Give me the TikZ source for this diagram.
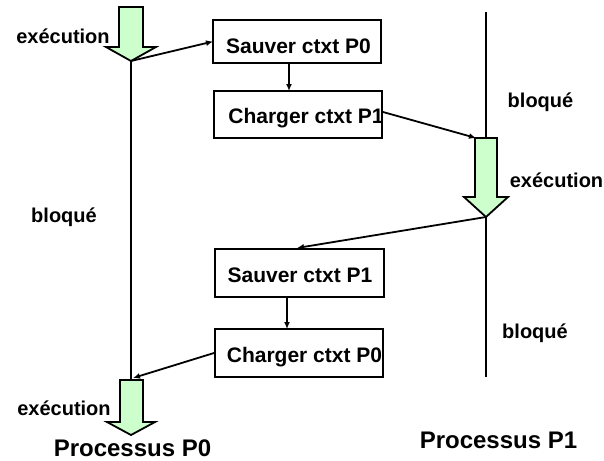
\documentclass[tikz,border=0pt]{standalone}
\usepackage{fontspec}
\setmainfont{Liberation Sans}
\usetikzlibrary{arrows.meta}
\definecolor{runfill}{HTML}{CCFFCC}
\begin{document}
\begin{tikzpicture}[x=1pt,y=-1pt,
  every node/.style={inner sep=0pt,outer sep=0pt},
  boxnode/.style={draw,line width=2pt,rectangle,minimum width=168pt},
  boxtext/.style={font=\fontsize{21}{25}\selectfont\bfseries,anchor=base},
  lbl/.style={font=\fontsize{20}{24}\selectfont\bfseries,anchor=base},
  title/.style={font=\fontsize{24}{28}\selectfont\bfseries,anchor=base},
  conn/.style={line width=1.8pt,-{Latex[length=7pt,width=6pt]}},
  tline/.style={line width=2pt},
  blockarrow/.style={draw,line width=1.8pt,fill=runfill,line join=miter}]
\useasboundingbox (0,0) rectangle (604,460);

% block arrows (execution)
\draw[blockarrow] (119,7) -- (143,7) -- (143,47) -- (156,47) -- (131,61) -- (106,47) -- (119,47) -- cycle;
\coordinate (a0tip) at (131,61);
\coordinate (a0top) at (131,7);
\draw[blockarrow] (120,380) -- (143,380) -- (143,422) -- (155,422) -- (131,435) -- (107,422) -- (120,422) -- cycle;
\coordinate (a2top) at (131,380);
\coordinate (a2tip) at (131,435);
\draw[blockarrow] (475,138) -- (497,138) -- (497,197) -- (508,197) -- (486,217) -- (464,197) -- (475,197) -- cycle;
\coordinate (a1top) at (486,138);
\coordinate (a1tip) at (486,217);
\coordinate (a1corner) at (476,138);

% time lines
\coordinate (p1start) at (486,12);
\coordinate (p1end) at (486,377);
\draw[tline] (a0tip) -- (a2top);
\draw[tline] (p1start) -- (a1top);
\draw[tline] (a1tip) -- (p1end);

% boxes
\node[boxnode,minimum height=43pt] (sp0) at (297,41.5) {};
\node[boxnode,minimum height=47pt] (cp1) at (298,114.5) {};
\node[boxnode,minimum height=48pt,minimum width=169pt] (sp1) at (299.5,273) {};
\node[boxnode,minimum height=48pt] (cp0) at (299,353) {};
\node[boxtext] (tsp0) at (298.5,53.5) {Sauver ctxt P0};
\node[boxtext] (tcp1) at (306,123.5) {Charger ctxt P1};
\node[boxtext] (tsp1) at (300,282.5) {Sauver ctxt P1};
\node[boxtext] (tcp0) at (304.5,362.5) {Charger ctxt P0};

% connectors
\coordinate (cp1out) at (383,112);
\coordinate (sp1in) at (297,248);
\coordinate (cp0out) at (214,353);
\coordinate (a2in) at (133,378);
\draw[conn] (a0tip) -- (sp0.west);
\draw[conn] (sp0.south -| 289,0) -- (cp1.north -| 289,0);
\draw[conn] (cp1out) -- (a1corner);
\draw[conn] (a1tip) -- (sp1in);
\draw[conn] (sp1.south -| 287,0) -- (cp0.north -| 287,0);
\draw[conn] (cp0out) -- (a2in);

% labels
\node[lbl] (l1) at (63,44) {exécution};
\node[lbl] (l2) at (64,222) {bloqué};
\node[lbl] (l3) at (64,415) {exécution};
\node[lbl] (r1) at (540.5,107) {bloqué};
\node[lbl] (r2) at (556.5,187) {exécution};
\node[lbl] (r3) at (535,338) {bloqué};
\node[title] (t0) at (132.5,456) {Processus P0};
\node[title] (t1) at (498.5,448) {Processus P1};
\end{tikzpicture}
\end{document}
